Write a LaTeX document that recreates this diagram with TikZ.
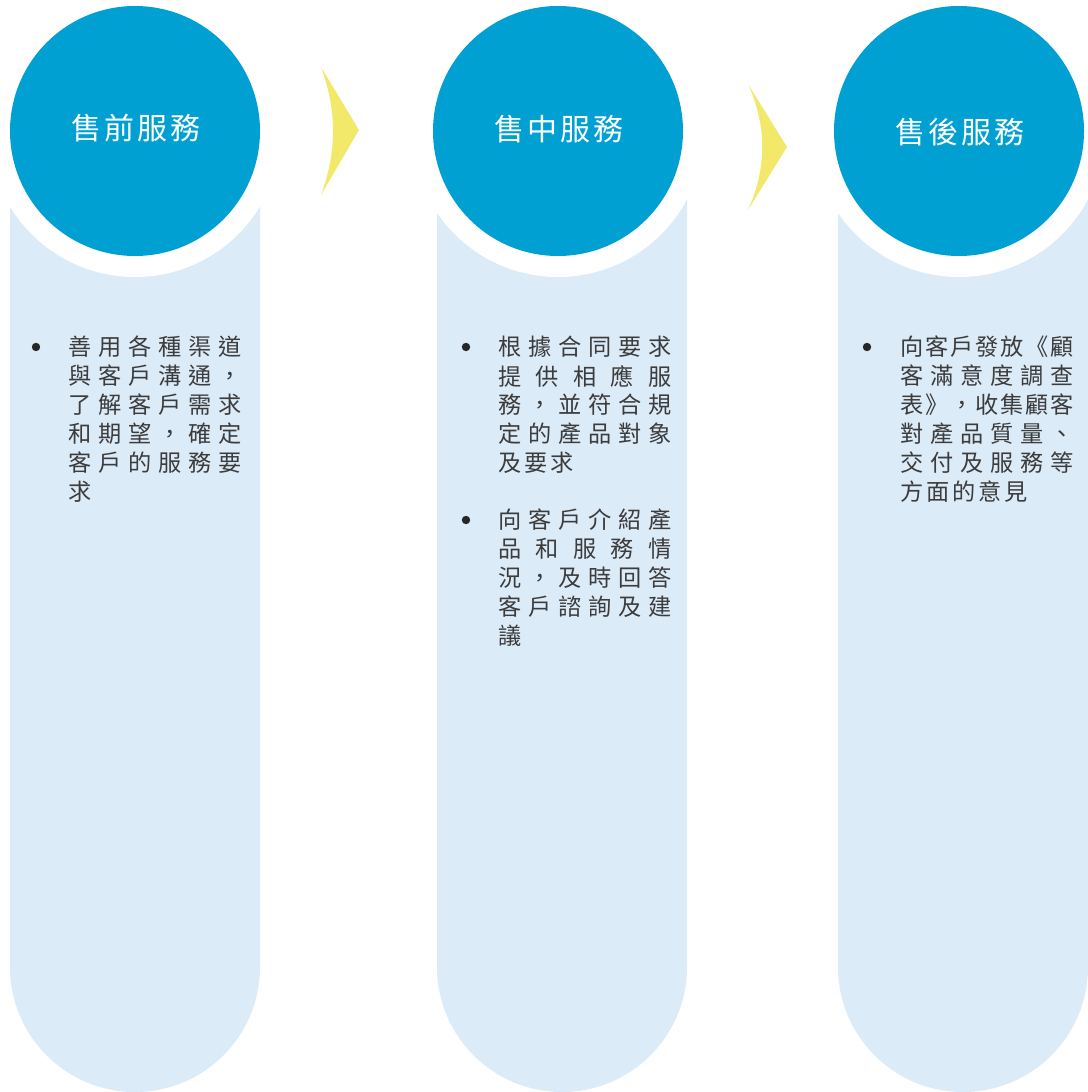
\documentclass[tikz,border=0pt]{standalone}
\usepackage{fontspec}
\setmainfont{Noto Sans CJK TC}
\newfontfamily\titlefont[LetterSpace=10]{Noto Sans CJK TC}
\usepackage{xcolor}
\usepackage{tikz}

\definecolor{stageblue}{HTML}{00A0D3}
\definecolor{columnblue}{HTML}{DCEBF8}
\definecolor{arrowyellow}{HTML}{F2E86A}
\definecolor{bodygray}{HTML}{3C3C3C}

% justified line and left-set last line
\newlength\linew
\setlength\linew{129.75pt}
\newlength\pitch
\setlength\pitch{19.6pt}
\def\jloop#1#2\jend{#1\if\relax\detokenize{#2}\relax\else\hfill\jloop#2\jend\fi}
\newcommand{\jline}[1]{\makebox[\linew][s]{\jloop#1\jend}}
\def\gloop#1#2\gend{\makebox[\pitch][l]{#1}\if\relax\detokenize{#2}\relax\else\gloop#2\gend\fi}
\newcommand{\gline}[1]{\gloop#1\gend}

\begin{document}
\begin{tikzpicture}[x=0.75pt,y=0.75pt,
        stage/.style = {circle, fill=stageblue, minimum size=187.5pt, inner sep=0pt},
        halo/.style = {circle, fill=white, minimum size=219pt, inner sep=0pt},
        title/.style = {text=white, font=\titlefont\fontsize{22.5pt}{26pt}\selectfont},
        body/.style = {anchor=west, inner sep=0pt, text=bodygray,
            font=\fontsize{17.4pt}{21.75pt}\selectfont},
        dot/.style = {circle, fill=black!85, minimum size=6.3pt, inner sep=0pt}]

        \useasboundingbox (0,0) rectangle (1088,-1092);

        % Columns
        \fill[columnblue] (10,-200) -- (10,-967) arc[start angle=180, end angle=360, radius=125] -- (260,-200) -- cycle;
        \fill[columnblue] (437,-200) -- (437,-967) arc[start angle=180, end angle=360, radius=125] -- (687,-200) -- cycle;
        \fill[columnblue] (838,-200) -- (838,-967) arc[start angle=180, end angle=360, radius=125] -- (1088,-200) -- cycle;

        % Stage circles
        \node[halo] (h1) at (135,-131) {};
        \node[halo] (h2) at (558,-131) {};
        \node[halo] (h3) at (959,-131) {};
        \node[stage] (s1) at (135,-131) {};
        \node[stage] (s2) at (558,-131) {};
        \node[stage] (s3) at (959,-131) {};
        \node[title] (t1) at (136,-128) {售前服務};
        \node[title] (t2) at (559,-129) {售中服務};
        \node[title] (t3) at (960,-132) {售後服務};

        % Arrows
        \fill[arrowyellow] (321,-67) -- (359,-130) -- (321,-195) .. controls (337,-152) and (337,-110) .. (321,-67);
        \fill[arrowyellow] (748,-84) -- (787,-147) -- (748,-210) .. controls (767,-168) and (767,-126) .. (748,-84);

        % Pre-sale
        \node[dot] (b1) at (36,-347) {};
        \node[body] (a1) at (68,-347) {\jline{善用各種渠道}};
        \node[body] (a2) at (68,-376) {\jline{與客戶溝通，}};
        \node[body] (a3) at (68,-405) {\jline{了解客戶需求}};
        \node[body] (a4) at (68,-434) {\jline{和期望，確定}};
        \node[body] (a5) at (68,-463) {\jline{客戶的服務要}};
        \node[body] (a6) at (68,-492) {\gline{求}};

        % In-sale
        \node[dot] (b2) at (466,-347) {};
        \node[body] (m1) at (498,-347) {\jline{根據合同要求}};
        \node[body] (m2) at (498,-376) {\jline{提供相應服}};
        \node[body] (m3) at (498,-405) {\jline{務，並符合規}};
        \node[body] (m4) at (498,-434) {\jline{定的產品對象}};
        \node[body] (m5) at (498,-463) {\gline{及要求}};
        \node[dot] (b3) at (466,-520) {};
        \node[body] (n1) at (498,-520) {\jline{向客戶介紹產}};
        \node[body] (n2) at (498,-549) {\jline{品和服務情}};
        \node[body] (n3) at (498,-578) {\jline{況，及時回答}};
        \node[body] (n4) at (498,-607) {\jline{客戶諮詢及建}};
        \node[body] (n5) at (498,-636) {\gline{議}};

        % After-sale
        \node[dot] (b4) at (867,-347) {};
        \node[body] (p1) at (900,-347) {\jline{向客戶發放《顧}};
        \node[body] (p2) at (900,-376) {\jline{客滿意度調查}};
        \node[body] (p3) at (900,-405) {\jline{表》，收集顧客}};
        \node[body] (p4) at (900,-434) {\jline{對產品質量、}};
        \node[body] (p5) at (900,-463) {\jline{交付及服務等}};
        \node[body] (p6) at (900,-492) {\gline{方面的意見}};
    \end{tikzpicture}
\end{document}
